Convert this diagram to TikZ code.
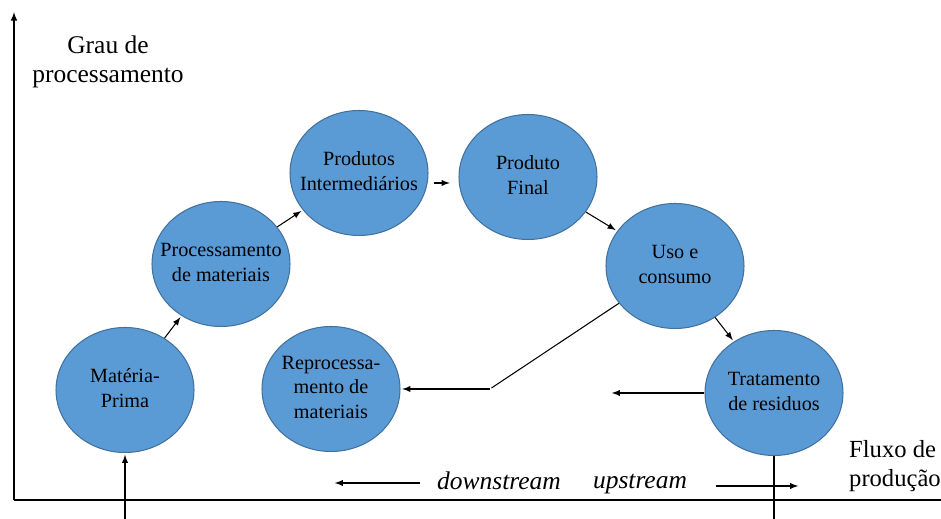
\documentclass[tikz,border=0pt]{standalone}
\usepackage{fontspec}
\setmainfont{Liberation Serif}
\usetikzlibrary{shapes.geometric}
\usetikzlibrary{arrows,calc}

\definecolor{etapa}{HTML}{5B9BD5}
\definecolor{etapaborda}{HTML}{41719C}
% texto sem largura, para a elipse ficar com o tamanho fixo
\newcommand{\rotulo}[1]{\makebox[0pt]{\begin{tabular}{@{}c@{}}#1\end{tabular}}}

\begin{document}
\begin{tikzpicture} [
       x=0.02cm, y=-0.02cm,
       etapa/.style={ellipse, draw=etapaborda, fill=etapa, line width=0.6pt,
               minimum width=2.76cm, minimum height=2.5cm, inner sep=0pt,
               font=\fontsize{11.5}{14}\selectfont},
       legenda/.style={align=center, font=\fontsize{14.5}{16.5}\selectfont},
       seta/.style = {draw, line width=0.6pt, -latex, shorten >=1pt},
       ]
       \useasboundingbox (0,0) rectangle (941,519);
       % eixos
       \coordinate (origem) at (14,500);
       \coordinate (topo) at (14,12);
       \coordinate (fim) at (941,500);
       \draw[line width=0.7pt, -latex] (origem) -- (topo);
       \draw[line width=0.7pt] (origem) -- (fim);
       \node (grau) [legenda] at (108,62) {Grau de\\processamento};
       \node (fluxo) [legenda, anchor=west, align=left, font=\fontsize{14}{16.5}\selectfont] at (843,466) {Fluxo de\\produção};

       % etapas
       \node (mp) [etapa] at (125,390) {\rotulo{Matéria-\\Prima}};
       \node (proc) [etapa] at (221,264) {\rotulo{Processamento\\de materiais}};
       \node (pi) [etapa] at (359,173) {\rotulo{Produtos\\Intermediários}};
       \node (pf) [etapa] at (528,177) {\rotulo{Produto\\Final}};
       \node (uso) [etapa] at (675,266) {\rotulo{Uso e\\consumo}};
       \node (reproc) [etapa] at (331,389) {\rotulo{Reprocessa-\\mento de\\materiais}};
       \node (trat) [etapa] at (774,393) {\rotulo{Tratamento\\de residuos}};

       \coordinate (entrada) at (125,519);
       \coordinate (saida) at (774,519);
       \coordinate (dobra) at (490,389);
       \coordinate (livre) at (610,393);

       \begin{scope}[every path/.style=seta]
        \path (entrada) -- (mp);
        \path (mp) -- (proc);
        \path (proc) -- (pi);
        \path ([xshift=3pt,yshift=-0.2cm]pi.east) -- ([xshift=-4pt,yshift=-0.2cm]pi.east -| pf.west);
        \path (pf) -- (uso);
        \path (uso) -- (trat);
        \path[-] (uso) -- (dobra);
        \path (dobra) -- (reproc);
        \path (trat) -- (livre);
       \end{scope}
       \draw[line width=0.6pt] (trat) -- (saida);

       % sentidos do fluxo
       \node (down) [legenda, font=\fontsize{14.5}{16.5}\selectfont\itshape] at (499,481) {downstream};
       \node (up) [legenda, font=\fontsize{14.5}{16.5}\selectfont\itshape] at (640,484) {upstream};
       \coordinate (dponta) at (333,483);
       \coordinate (uponta) at (800,486);
       \draw[seta] ([xshift=-0.22cm]down.west |- dponta) -- (dponta);
       \draw[seta] ([xshift=0.45cm]up.east |- uponta) -- (uponta);
\end{tikzpicture}
\end{document}
